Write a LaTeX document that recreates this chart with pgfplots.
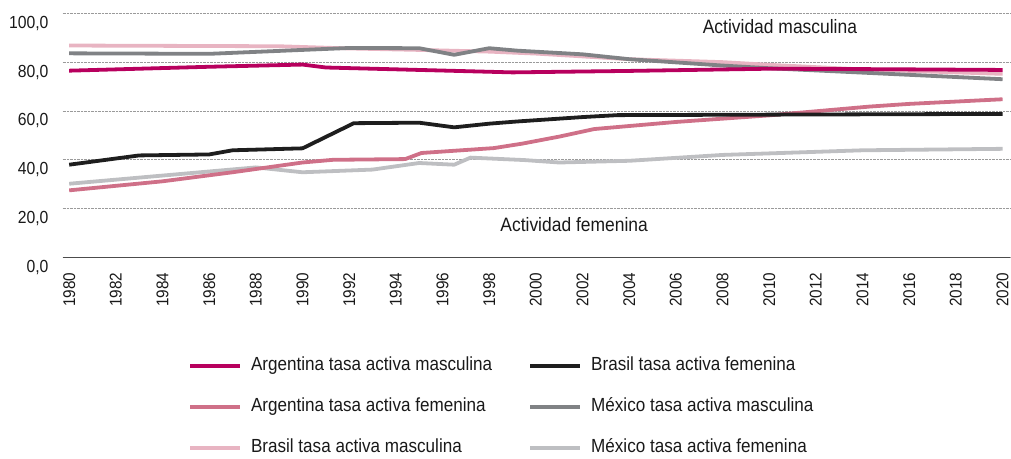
\documentclass[border=0pt]{standalone}
\usepackage{fontspec}
\setmainfont[FakeStretch=0.9]{Liberation Sans}
\usepackage{pgfplots}
\pgfplotsset{compat=1.18}
\definecolor{argm}{HTML}{B8005E}
\definecolor{argf}{HTML}{CF7088}
\definecolor{brm}{HTML}{E8B4C2}
\definecolor{brf}{HTML}{1E1E1E}
\definecolor{mxm}{HTML}{808285}
\definecolor{mxf}{HTML}{BEBFC2}
\definecolor{gridc}{HTML}{9A9A9A}
\begin{document}
\begin{tikzpicture}
\begin{axis}[
  at={(0pt,0pt)}, anchor=south west,
  scale only axis, width=948.3pt, height=244.4pt,
  xmin=1979.72, xmax=2020.33, ymin=0, ymax=100,
  axis x line*=bottom, axis y line*=left,
  y axis line style={draw=none},
  x axis line style={draw=black!70, line width=1.5pt},
  tick style={draw=none},
  xtick={1980,1982,...,2020},
  ytick={0,20,40,60,80,100},
  ymajorgrids, grid style={gridc, densely dotted, line width=0.8pt},
  /pgf/number format/assume math mode=true,
  xticklabel={\pgfmathprintnumber[1000 sep={}]{\tick}},
  yticklabel={\pgfmathprintnumber[fixed,fixed zerofill,precision=1,use comma]{\tick}},
  xticklabel style={rotate=90, anchor=east, inner sep=0pt, font=\fontsize{17}{17}\selectfont, text=black!90},
  xticklabel shift=15pt,
  yticklabel style={anchor=east, inner sep=0pt, yshift=-10pt, font=\fontsize{17.5}{17.5}\selectfont, text=black!90},
  yticklabel shift=14pt,
  legend columns=2,
  legend cell align=left,
  legend style={draw=none, fill=none, at={(0.129,-0.40)}, anchor=north west,
    font=\fontsize{19}{19}\selectfont, text=black!90,
    nodes={inner sep=0pt, text height=13.5pt, text depth=4pt},
    row sep=23.3pt,
    /tikz/every odd column/.append style={column sep=9pt},
    /tikz/every even column/.append style={column sep=36pt}},
  legend image code/.code={\draw[line width=4pt, #1] (0pt,0pt) -- (50pt,0pt);},
  every axis plot/.append style={line width=3.8pt, line join=round},
]
\addlegendimage{argm}\addlegendentry{Argentina tasa activa masculina}
\addlegendimage{brf}\addlegendentry{Brasil tasa activa femenina}
\addlegendimage{argf}\addlegendentry{Argentina tasa activa femenina}
\addlegendimage{mxm}\addlegendentry{México tasa activa masculina}
\addlegendimage{brm}\addlegendentry{Brasil tasa activa masculina}
\addlegendimage{mxf}\addlegendentry{México tasa activa femenina}

% México femenina
\addplot[mxf, forget plot] coordinates {
(1980,30.2) (1988,36.9) (1990,34.9) (1993,36.0) (1995,38.7) (1996.5,38.0)
(1997.2,40.9) (1999.5,39.9) (2001,38.9) (2004,39.6) (2008,42.0) (2014,43.9) (2020,44.5)};
% Argentina femenina
\addplot[argf, forget plot] coordinates {
(1980,27.5) (1984,31.2) (1987,34.9) (1990,38.9) (1991.3,40.0) (1994.4,40.3)
(1995.1,42.8) (1998.2,44.8) (1999.4,46.6) (2001,49.5) (2002.5,52.6) (2006,55.5)
(2010,58.2) (2014.3,61.8) (2016,62.9) (2020,64.8)};
% Brasil femenina
\addplot[brf, forget plot] coordinates {
(1980,38.0) (1983,41.8) (1986,42.2) (1987,43.9) (1990,44.7) (1992.2,55.0)
(1995,55.2) (1996.5,53.3) (1998,54.8) (1999.2,55.7) (2002,57.5) (2003.5,58.3)
(2010,58.5) (2020,58.8)};
% Brasil masculina
\addplot[brm, forget plot] coordinates {
(1980,86.8) (1989,86.5) (1992,85.6) (1995,85.0) (1998,84.3) (2000,83.5)
(2004,81.2) (2008,80.0) (2010,78.9) (2014,77.0) (2020,75.2)};
% México masculina
\addplot[mxm, forget plot] coordinates {
(1980,83.6) (1986,83.4) (1990,85.0) (1992,85.8) (1995,85.7) (1996.5,83.0)
(1998,85.7) (1999.2,84.7) (2002,83.2) (2004,81.2) (2008,78.6) (2010,77.5)
(2014,75.7) (2020,73.0)};
% Argentina masculina
\addplot[argm, forget plot] coordinates {
(1980,76.5) (1983,77.3) (1986,78.1) (1990,79.0) (1991,77.8) (1995,76.8)
(1999,75.8) (2004,76.4) (2010,77.3) (2015,77.1) (2020,76.8)};

\node[font=\fontsize{19.4}{19.4}\selectfont, text=black!90] at (axis cs:2010.46,94.4) {Actividad masculina};
\node[font=\fontsize{19.4}{19.4}\selectfont, text=black!90] at (axis cs:2001.64,13.4) {Actividad femenina};
\end{axis}
\path (-62.7pt,-192.3pt) rectangle (948.3pt,257.7pt);
\end{tikzpicture}
\end{document}
